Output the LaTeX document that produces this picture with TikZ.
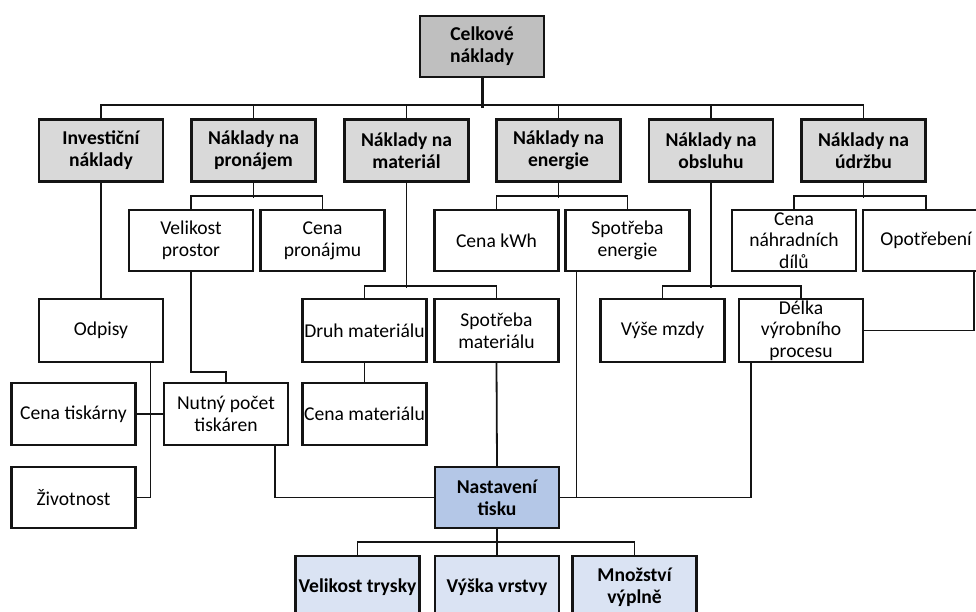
\documentclass[tikz,border=0pt]{standalone}
\usepackage{fontspec}
\setmainfont{Carlito}
\definecolor{lc}{HTML}{141414}
\definecolor{topfill}{HTML}{BFBFBF}
\definecolor{grayfill}{HTML}{D9D9D9}
\definecolor{bluefill}{HTML}{B4C7E7}
\definecolor{lightblue}{HTML}{DAE3F3}
\tikzset{
  bx/.style={draw=lc, line width=2.2pt, minimum width=124pt, minimum height=62pt, inner sep=0pt, fill=white},
  topbox/.style={bx, fill=topfill},
  l1box/.style={bx, fill=grayfill},
  nastbox/.style={bx, fill=bluefill},
  setbox/.style={bx, fill=lightblue},
  tx/.style={align=center, inner sep=0pt, text=black, font=\fontsize{19.6}{21.7}\selectfont},
  tb/.style={align=center, inner sep=0pt, text=black, font=\bfseries\fontsize{19.6}{21.7}\selectfont},
  con/.style={draw=lc, line width=1.8pt},
  mainstem/.style={draw=lc, line width=3pt}
}
\begin{document}
\begin{tikzpicture}[x=1pt, y=-1pt]
\useasboundingbox (0,0) rectangle (976,612);
\clip (0,0) rectangle (976,612);

% top
\node[topbox, minimum height=61pt, label={[tb]center:Celkové\\náklady}] (cel) at (482,46.5) {};

% level 1
\node[l1box, label={[tb]center:Investiční\\náklady}] (inv) at (101,150.5) {};
\node[l1box, label={[tb]center:Náklady na\\pronájem}] (pron) at (253.5,150.5) {};
\node[l1box, label={[tb]center:Náklady na\\materiál}] (mat) at (406.5,150.5) {};
\node[l1box, label={[tb]center:Náklady na\\energie}] (ene) at (558.5,150.5) {};
\node[l1box, label={[tb]center:Náklady na\\obsluhu}] (obs) at (711,150.5) {};
\node[l1box, label={[tb]center:Náklady na\\údržbu}] (udr) at (863.5,150.5) {};

% level 2
\node[bx, minimum height=61pt, label={[tx]center:Velikost\\prostor}] (vel) at (191,240.5) {};
\node[bx, minimum height=61pt, label={[tx]center:Cena\\pronájmu}] (cenpron) at (322.5,240.5) {};
\node[bx, minimum height=61pt, label={[tx]center:Cena kWh}] (kwh) at (496.5,240.5) {};
\node[bx, minimum height=61pt, label={[tx]center:Spotřeba\\energie}] (spen) at (627.5,240.5) {};
\node[bx, minimum height=61pt, label={[tx]center:Cena\\náhradních\\dílů}] (nahr) at (794,240.5) {};
\node[bx, minimum height=61pt, minimum width=126pt, label={[tx]center:Opotřebení}] (opo) at (926,240.5) {};

% level 3
\node[bx, minimum height=63pt, label={[tx]center:Odpisy}] (odp) at (101,330.5) {};
\node[bx, minimum height=63pt, label={[tx]center:Druh materiálu}] (druh) at (364.5,330.5) {};
\node[bx, minimum height=63pt, label={[tx]center:Spotřeba\\materiálu}] (spmat) at (496.5,330.5) {};
\node[bx, minimum height=63pt, label={[tx]center:Výše mzdy}] (vyse) at (662.5,330.5) {};
\node[bx, minimum height=63pt, label={[tx]center:Délka\\výrobního\\procesu}] (delka) at (801,330.5) {};

% level 4
\node[bx, label={[tx]center:Cena tiskárny}] (ctisk) at (73.5,414) {};
\node[bx, label={[tx]center:Nutný počet\\tiskáren}] (nutny) at (226,414) {};
\node[bx, label={[tx]center:Cena materiálu}] (cmat) at (364.5,414) {};
\node[bx, minimum height=61pt, label={[tx]center:Životnost}] (zivot) at (73.5,497.5) {};
\node[nastbox, minimum height=61pt, label={[tb]center:Nastavení\\tisku}] (nast) at (497,497.5) {};

% level 5
\node[setbox, label={[tb]center:Velikost trysky}] (vt) at (357.5,587) {};
\node[setbox, label={[tb]center:Výška vrstvy}] (vv) at (497,587) {};
\node[setbox, label={[tb]center:Množství\\výplně}] (mv) at (634.5,587) {};

% connectors: top level
\draw[mainstem] (cel.south) -- ++(0,29.5);
\draw[con] (inv.north) -- ++(0,-13) -| (udr.north);
\draw[con] (pron.north) -- ++(0,-13);
\draw[con] (mat.north) -- ++(0,-13);
\draw[con] (ene.north) -- ++(0,-13);
\draw[con] (obs.north) -- ++(0,-13);

% pronajem
\draw[con] (pron.south) -- ++(0,15);
\draw[con] (vel.north) -- ++(0,-13) -| (cenpron.north);
% energie
\draw[con] (ene.south) -- ++(0,15);
\draw[con] (kwh.north) -- ++(0,-13) -| (spen.north);
% udrzba
\draw[con] (udr.south) -- ++(0,15);
\draw[con] (nahr.north) -- ++(0,-13) -| (opo.north);
% investicni
\draw[con] (inv.south) -- (odp.north);
% material
\draw[con] (mat.south) -- ++(0,105);
\draw[con] (druh.north) -- ++(0,-12) -| (spmat.north);
% obsluha
\draw[con] (obs.south) -- ++(0,105);
\draw[con] (vyse.north) -- ++(0,-12) -| (delka.north);
% opotrebeni -> delka
\draw[con] ([xshift=112pt]opo.south west) |- (delka.east);
% velikost prostor -> nutny
\draw[con] (vel.south) -- ++(0,100) -| (nutny.north);
% odpisy -> zivotnost
\draw[con] ([xshift=49.5pt]odp.south) |- (zivot.east);
% cena tiskarny -- nutny
\draw[con] (ctisk.east) -- (nutny.west);
% druh -> cena materialu
\draw[con] (druh.south) -- (cmat.north);
% spotreba materialu -> nastaveni
\draw[con] (spmat.south) -- (nast.north);
% nutny -> nastaveni
\draw[con] ([xshift=49pt]nutny.south) |- (nast.west);
% spotreba energie -> nastaveni
\draw[con] ([xshift=12pt]spen.south west) |- (nast.east);
% delka -> nastaveni
\draw[con] ([xshift=13pt]delka.south west) |- (nast.east);
% nastaveni -> settings
\draw[con] (nast.south) -- (vv.north);
\draw[con] (vt.north) -- ++(0,-13) -| (mv.north);
\end{tikzpicture}
\end{document}
